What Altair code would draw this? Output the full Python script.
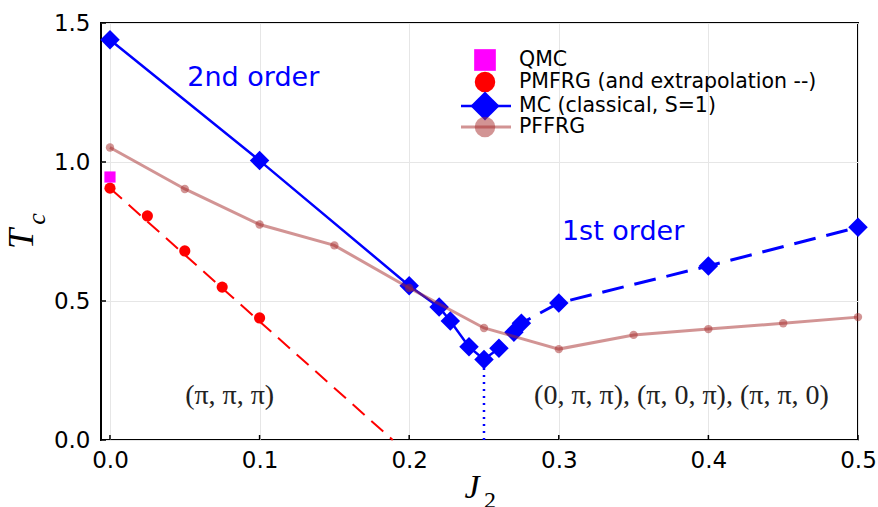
import altair as alt
import pandas as pd

# ---- data ----
mc2_x = [0.0, 0.1, 0.2, 0.22, 0.2275, 0.24, 0.25, 0.26]
mc2_y = [1.44, 1.005, 0.555, 0.478, 0.428, 0.335, 0.29, 0.33]
mc1_x = [0.27, 0.275, 0.3, 0.4, 0.5]
mc1_y = [0.388, 0.42, 0.493, 0.626, 0.765]
pffrg_x = [0.0, 0.05, 0.1, 0.15, 0.2, 0.25, 0.3, 0.35, 0.4, 0.45, 0.5]
pffrg_y = [1.052, 0.903, 0.775, 0.70, 0.547, 0.403, 0.327, 0.378, 0.399, 0.42, 0.442]
pmfrg_x = [0.0, 0.025, 0.05, 0.075, 0.1]
pmfrg_y = [0.906, 0.806, 0.68, 0.55, 0.439]
extrap_x = [0.0, 0.189]
extrap_y = [0.906, 0.0]
qmc_x = [0.0]
qmc_y = [0.946]
crit_x = [0.25, 0.25]
crit_y = [0.0, 0.29]
x_ticks = [0.0, 0.1, 0.2, 0.3, 0.4, 0.5]
y_ticks = [0.0, 0.5, 1.0, 1.5]
ann_text = ["2nd order", "1st order"]
ann_x = [0.0958, 0.343]
ann_y = [1.302, 0.748]
phase_text = ["(π, π, π)", "(0, π, π), (π, 0, π), (π, π, 0)"]
phase_x = [0.08, 0.382]
phase_y = [0.158, 0.158]
legend_labels = ["QMC", "PMFRG (and extrapolation --)", "MC (classical, S=1)", "PFFRG"]

W, H = 757, 417
XD = [-0.006, 0.5]
YD = [0.0, 1.5]

xs = alt.Scale(domain=XD, nice=False, zero=False)
ys = alt.Scale(domain=YD, nice=False, zero=False)

def df(x, y, **kw):
    d = pd.DataFrame({"x": x, "y": y})
    for k, v in kw.items():
        d[k] = v
    return d

x_axis = alt.Axis(values=x_ticks, format=".1f", title=None,
                  grid=True, gridColor="#e6e6e6", gridWidth=1,
                  domain=False, ticks=False, labelFont="DejaVu Sans",
                  labelFontSize=23, labelColor="black", labelPadding=9,
                  labelFlush=False, labelOverlap=False, labelBound=False)
y_axis = alt.Axis(values=y_ticks, format=".1f", title=None,
                  grid=True, gridColor="#e6e6e6", gridWidth=1,
                  domain=False, ticks=False, labelFont="DejaVu Sans",
                  labelFontSize=23, labelColor="black", labelPadding=11,
                  labelFlush=False, labelOverlap=False, labelBound=False)

X = alt.X("x:Q", scale=xs, axis=x_axis)
Y = alt.Y("y:Q", scale=ys, axis=y_axis)

xtick = alt.Chart(pd.DataFrame({"x": x_ticks})).mark_rule(color="black", strokeWidth=1.5).encode(
    x=X, y=alt.value(H), y2=alt.value(H - 5))
ytick = alt.Chart(pd.DataFrame({"y": y_ticks})).mark_rule(color="black", strokeWidth=1.5).encode(
    y=Y, x=alt.value(0), x2=alt.value(5))

pffrg = df(pffrg_x, pffrg_y)
pffrg_line = alt.Chart(pffrg).mark_line(color="#a52a2a", opacity=0.5, strokeWidth=3).encode(x=X, y=Y)
pffrg_pts = alt.Chart(pffrg).mark_point(shape="circle", filled=True, color="#a52a2a",
                                        opacity=0.5, size=70).encode(x=X, y=Y)

mc2 = df(mc2_x, mc2_y)
mc1 = df(mc1_x, mc1_y)
mc2_line = alt.Chart(mc2).mark_line(color="#0000ff", strokeWidth=2.5).encode(x=X, y=Y)
mc1_line = alt.Chart(mc1).mark_line(color="#0000ff", strokeWidth=3,
                                    strokeDash=[22, 11]).encode(x=X, y=Y)
mc_pts = alt.Chart(pd.concat([mc2, mc1])).mark_point(shape="diamond", filled=True,
                                                      color="#0000ff", opacity=1,
                                                      size=380).encode(x=X, y=Y)
crit = alt.Chart(df(crit_x, crit_y)).mark_line(color="#0000ff", strokeWidth=2.5,
                                               strokeDash=[2, 5]).encode(x=X, y=Y)

extrap = alt.Chart(df(extrap_x, extrap_y)).mark_line(color="#ff0000", strokeWidth=2,
                                                     strokeDash=[16, 9]).encode(x=X, y=Y)
pmfrg_pts = alt.Chart(df(pmfrg_x, pmfrg_y)).mark_point(shape="circle", filled=True,
                                                       color="#ff0000", opacity=1,
                                                       size=125).encode(x=X, y=Y)
qmc_pts = alt.Chart(df(qmc_x, qmc_y)).mark_point(shape="square", filled=True,
                                                 color="#ff00ff", opacity=1,
                                                 size=125).encode(x=X, y=Y)

ann = alt.Chart(pd.DataFrame({"x": ann_x, "y": ann_y, "t": ann_text})).mark_text(
    font="DejaVu Sans", fontSize=27, color="#0000ff", align="center", baseline="middle"
).encode(x=X, y=Y, text="t:N")
phase = alt.Chart(pd.DataFrame({"x": phase_x, "y": phase_y, "t": phase_text})).mark_text(
    font="Liberation Serif", fontSize=28, color="#222222", align="center", baseline="middle"
).encode(x=X, y=Y, text="t:N")

# axis titles (with subscripts)
one = pd.DataFrame({"a": [0]})
t_main = alt.Chart(one).mark_text(text="T", font="Liberation Serif", fontStyle="italic",
                                  fontWeight="normal", fontSize=36, angle=270, align="center",
                                  baseline="middle", color="black").encode(
    x=alt.value(-79), y=alt.value(216))
t_sub = alt.Chart(one).mark_text(text="c", font="Liberation Serif", fontStyle="italic",
                                 fontSize=26, angle=270, align="center",
                                 baseline="middle", color="black").encode(
    x=alt.value(-64), y=alt.value(196))
j_main = alt.Chart(one).mark_text(text="J", font="Liberation Serif", fontStyle="italic",
                                  fontSize=34, align="center", baseline="middle",
                                  color="black").encode(x=alt.value(371), y=alt.value(48 + H))
j_sub = alt.Chart(one).mark_text(text="2", font="Liberation Serif",
                                 fontSize=24, align="center", baseline="middle",
                                 color="black").encode(x=alt.value(389), y=alt.value(61 + H))

# legend (drawn manually, positions in pixels of the plot area)
lx, tx = 384, 418
ly = [37, 59, 83, 104]
leg_qmc = alt.Chart(one).mark_point(shape="square", filled=True, color="#ff00ff", opacity=1,
                                    size=470).encode(x=alt.value(lx), y=alt.value(ly[0]))
leg_pm = alt.Chart(one).mark_point(shape="circle", filled=True, color="#ff0000", opacity=1,
                                   size=420).encode(x=alt.value(lx), y=alt.value(ly[1]))
leg_mc_line = alt.Chart(one).mark_rule(color="#0000ff", strokeWidth=2.5).encode(
    x=alt.value(lx - 24), x2=alt.value(lx + 26), y=alt.value(ly[2]))
leg_mc = alt.Chart(one).mark_point(shape="diamond", filled=True, color="#0000ff", opacity=1,
                                   size=850).encode(x=alt.value(lx), y=alt.value(ly[2]))
leg_pf_line = alt.Chart(one).mark_rule(color="#a52a2a", opacity=0.5, strokeWidth=3).encode(
    x=alt.value(lx - 24), x2=alt.value(lx + 26), y=alt.value(ly[3]))
leg_pf = alt.Chart(one).mark_point(shape="circle", filled=True, color="#a52a2a", opacity=0.5,
                                   size=420).encode(x=alt.value(lx), y=alt.value(ly[3]))
leg_text = alt.Chart(pd.DataFrame({"t": legend_labels, "py": ly})).mark_text(
    font="DejaVu Sans", fontSize=20.5, align="left", baseline="middle", color="black"
).encode(x=alt.value(tx), y=alt.Y("py:Q", scale=None), text="t:N")

chart = alt.layer(
    xtick, ytick,
    extrap, pmfrg_pts, qmc_pts,
    crit, mc2_line, mc1_line, mc_pts,
    pffrg_line, pffrg_pts,
    ann, phase,
    t_main, t_sub, j_main, j_sub,
    leg_qmc, leg_pm, leg_mc_line, leg_mc, leg_pf_line, leg_pf, leg_text,
).properties(
    width=W, height=H,
    padding={"left": 101, "top": 23, "right": 20, "bottom": 67},
    autosize=alt.AutoSizeParams(type="none"),
    background="white",
).configure_view(stroke="black", strokeWidth=2)

chart.save("out.html", embed_options={"renderer": "svg", "actions": False})
